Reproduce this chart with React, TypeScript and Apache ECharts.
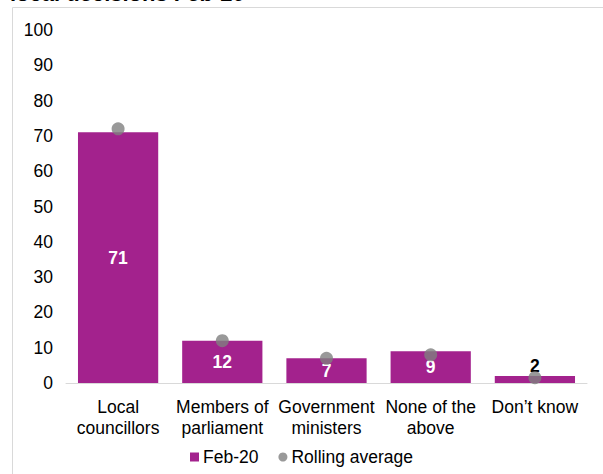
import React, { useEffect, useRef } from "react";
import * as echarts from "echarts";

const categories = [
  "Local\ncouncillors",
  "Members of\nparliament",
  "Government\nministers",
  "None of the\nabove",
  "Don\u2019t know",
];
const feb20 = [71, 12, 7, 9, 2];
const rollingAverage = [72, 12, 7, 8, 1.5];
const yTicks = { min: 0, max: 100, interval: 10 };

const FONT = "Liberation Sans, Arial, sans-serif";
const FS = 17.5;

export default function App() {
  const ref = useRef<HTMLDivElement>(null);
  useEffect(() => {
    if (!ref.current) return;
    const chart = echarts.init(ref.current, null, { renderer: "svg" });
    chart.setOption({
      animation: false,
      textStyle: { fontFamily: FONT },
      graphic: [
        {
          type: "rect",
          shape: { x: 12.5, y: 7.5, width: 700, height: 600 },
          style: { fill: "none", stroke: "#d9d9d9", lineWidth: 1 },
          z: -1,
        },
        {
          type: "text",
          x: 10,
          y: 4,
          style: {
            text: "local decisions Feb-20",
            font: "bold 22px " + FONT,
            fill: "#000",
            textVerticalAlign: "bottom",
          },
        },
      ],
      grid: { left: 66, right: 16, top: 30, bottom: 91 },
      legend: {
        bottom: 3,
        left: "center",
        itemWidth: 9,
        itemHeight: 9,
        itemGap: 20,
        textStyle: { fontSize: FS, color: "#000", fontFamily: FONT, padding: [0, 0, 0, -1] },
        data: [
          { name: "Feb-20", icon: "rect" },
          { name: "Rolling average", icon: "circle" },
        ],
      },
      xAxis: {
        type: "category",
        data: categories,
        axisLine: { lineStyle: { color: "#d9d9d9", width: 1 } },
        axisTick: { show: false },
        axisLabel: {
          fontSize: FS,
          color: "#000",
          margin: 13,
          lineHeight: 21,
          interval: 0,
          fontFamily: FONT,
        },
      },
      yAxis: {
        type: "value",
        min: yTicks.min,
        max: yTicks.max,
        interval: yTicks.interval,
        splitLine: { show: false },
        axisLine: { show: false },
        axisTick: { show: false },
        axisLabel: { fontSize: FS, color: "#000", margin: 13, fontFamily: FONT },
      },
      series: [
        {
          name: "Feb-20",
          type: "bar",
          data: feb20.map((v, i) =>
            i === feb20.length - 1
              ? {
                  value: v,
                  label: { position: "top", color: "#000", distance: 1 },
                }
              : v
          ),
          barWidth: "77%",
          itemStyle: { color: "#a3228d" },
          label: {
            show: true,
            position: "inside",
            color: "#fff",
            fontWeight: "bold",
            fontSize: FS,
            fontFamily: FONT,
          },
        },
        {
          name: "Rolling average",
          type: "scatter",
          data: rollingAverage,
          symbol: "circle",
          symbolSize: 13,
          itemStyle: { color: "#808080" },
          z: 3,
        },
      ],
    });
    return () => chart.dispose();
  }, []);
  return (
    <div
      ref={ref}
      style={{ position: "absolute", left: 0, top: 0, width: 603, height: 474 }}
    />
  );
}
